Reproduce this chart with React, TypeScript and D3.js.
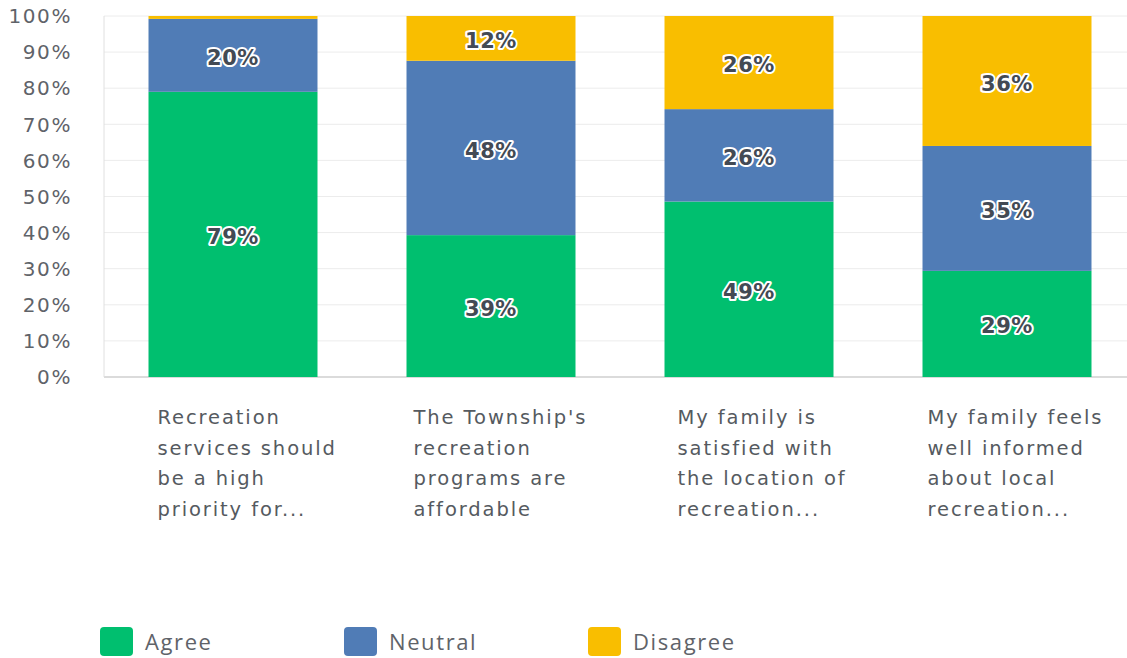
import * as d3 from "d3";

const categories = [
  ["Recreation", "services should", "be a high", "priority for..."],
  ["The Township's", "recreation", "programs are", "affordable"],
  ["My family is", "satisfied with", "the location of", "recreation..."],
  ["My family feels", "well informed", "about local", "recreation..."],
];
const seriesNames = ["Agree", "Neutral", "Disagree"];
const agree = [79.0, 39.3, 48.6, 29.4];
const neutral = [20.2, 48.3, 25.6, 34.6];
const disagree = [0.8, 12.4, 25.8, 36.0];
const yTicks = [0, 10, 20, 30, 40, 50, 60, 70, 80, 90, 100];
const colors = ["#00bf6f", "#507cb6", "#f9be00"];

// label indent from bar edge
const labelIndent = [9, 7, 13, 5];

const App = () => {
  const width = 1127;
  const height = 658;
  const marginLeft = 104;
  const marginTop = 16;
  const plotBottom = 377;

  const rows = categories.map((c, i) => ({
    idx: i,
    Agree: agree[i],
    Neutral: neutral[i],
    Disagree: disagree[i],
  }));
  const stacked = d3.stack<any>().keys(seriesNames)(rows);

  const xScale = d3
    .scaleBand()
    .domain(categories.map((_, i) => String(i)))
    .range([marginLeft, marginLeft + 258 * 4])
    .paddingInner(0.345)
    .paddingOuter(0.1725);
  const yScale = d3.scaleLinear().domain([0, 100]).range([plotBottom, marginTop]);

  const font = "'DejaVu Sans', sans-serif";
  const legendFont = "'Open Sans', sans-serif";

  return (
    <svg
      width={width}
      height={height}
      style={{ position: "absolute", left: 0, top: 0, background: "#fff" }}
    >
      {yTicks.map((t) => (
        <g key={t}>
          <line
            x1={marginLeft}
            x2={width}
            y1={yScale(t)}
            y2={yScale(t)}
            stroke={t === 0 ? "#cfcfcf" : "#ececec"}
            strokeWidth={t === 0 ? 1.5 : 1}
          />
          <text
            x={72}
            y={yScale(t)}
            dy="0.36em"
            textAnchor="end"
            fontFamily={font}
            fontSize={20}
            letterSpacing={1.6}
            fill="#5f6369"
          >
            {t}%
          </text>
        </g>
      ))}
      <line
        x1={marginLeft}
        x2={marginLeft}
        y1={marginTop}
        y2={plotBottom}
        stroke="#e0e0e0"
      />
      {stacked.map((s, si) => (
        <g key={s.key}>
          {s.map((d, i) => (
            <rect
              key={i}
              x={xScale(String(i))}
              width={xScale.bandwidth()}
              y={yScale(d[1])}
              height={yScale(d[0]) - yScale(d[1])}
              fill={colors[si]}
            />
          ))}
        </g>
      ))}
      {stacked.map((s) => (
        <g key={s.key + "-lab"}>
          {s.map((d, i) => {
            const v = d[1] - d[0];
            if (v < 5) return null;
            return (
              <text
                key={i}
                x={(xScale(String(i)) ?? 0) + xScale.bandwidth() / 2}
                y={yScale((d[0] + d[1]) / 2) + 2}
                dy="0.36em"
                textAnchor="middle"
                fontFamily={font}
                fontSize={21}
                fontWeight={700}
                letterSpacing={0.5}
                fill="#434a54"
                stroke="#fff"
                strokeWidth={4}
                strokeLinejoin="round"
                paintOrder="stroke"
              >
                {Math.round(v)}%
              </text>
            );
          })}
        </g>
      ))}
      {categories.map((lines, i) => {
        const x0 = (xScale(String(i)) ?? 0) + labelIndent[i];
        return (
          <text
            key={i}
            x={x0}
            y={424}
            fontFamily={font}
            fontSize={19.5}
            fill="#555a60"
            letterSpacing={1.9}
          >
            {lines.map((l, j) => (
              <tspan key={j} x={x0} dy={j === 0 ? 0 : 30.5}>
                {l}
              </tspan>
            ))}
          </text>
        );
      })}
      {seriesNames.map((n, i) => (
        <g key={n} transform={`translate(${100 + i * 244}, 627)`}>
          <rect width={33} height={29} rx={4} fill={colors[i]} />
          <text
            x={45}
            y={23}
            fontFamily={legendFont}
            fontSize={22}
            letterSpacing={1.6}
            fill="#5f6369"
          >
            {n}
          </text>
        </g>
      ))}
    </svg>
  );
};

export default App;
